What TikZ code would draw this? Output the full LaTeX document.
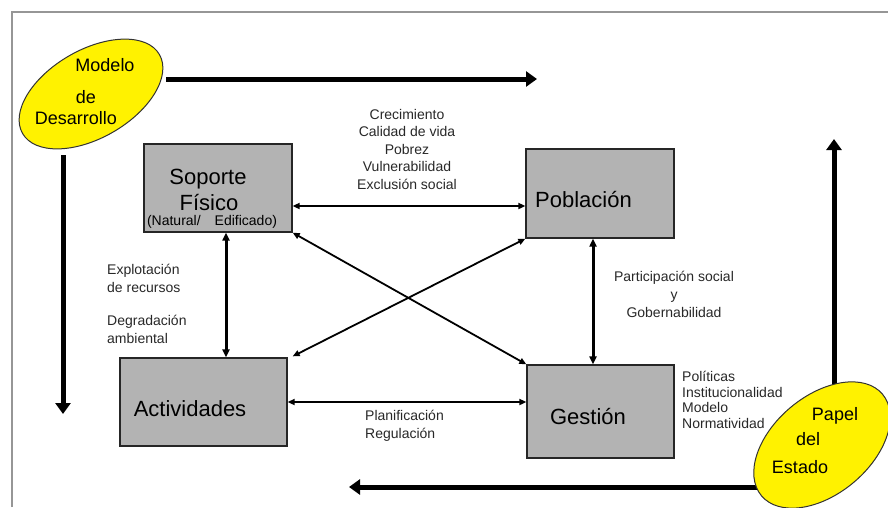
\documentclass[tikz,border=0pt]{standalone}
\usepackage{fontspec}
\setmainfont{Liberation Sans}
\usepackage{xcolor}
\usetikzlibrary{calc, positioning, arrows.meta, shapes.geometric}

\definecolor{cajagris}{RGB}{179,179,179}
\definecolor{marcogris}{RGB}{150,150,150}
\definecolor{textogris}{RGB}{40,40,40}

\begin{document}
\begin{tikzpicture}[x=1pt, y=-1pt,
    caja/.style={draw=black!85, line width=1.3pt, fill=cajagris, inner sep=0},
    titulo/.style={font=\fontsize{22}{26}\selectfont, inner sep=0},
    etiqueta/.style={font=\fontsize{14}{17.5}\selectfont, align=center, inner sep=0, text=textogris},
    flecha/.style={{Triangle[length=7pt,width=6pt]}-{Triangle[length=7pt,width=6pt]}, line width=1.8pt},
    flechag/.style={{Triangle[length=8pt,width=7pt]}-{Triangle[length=8pt,width=7pt]}, line width=3pt},
    gruesa/.style={-{Triangle[length=11pt,width=15pt]}, line width=5pt},
    elipse/.style={ellipse, draw=black!80, line width=1pt, fill=yellow, inner sep=0},
    eltexto/.style={font=\fontsize{18}{20}\selectfont, inner sep=0}]
    \useasboundingbox (0,0) rectangle (888,507);
    \fill[white] (0,0) rectangle (888,507);

    % marco
    \draw[marcogris, line width=1.5pt] (12,507) -- (12,12) -- (888,12);

    % cajas
    \node[caja, minimum width=148pt, minimum height=88pt] (soporte) at (218,188) {};
    \node[caja, minimum width=148pt, minimum height=89pt] (poblacion) at (600,193.5) {};
    \node[caja, minimum width=167pt, minimum height=88pt] (actividades) at (203.5,402) {};
    \node[caja, minimum width=147pt, minimum height=93pt] (gestion) at (600.5,411.5) {};

    \node[titulo, anchor=base] (soporteT) at (208,184) {Soporte};
    \node[titulo, anchor=base] (fisicoT) at (209,210) {Físico};
    \node[etiqueta, anchor=base, text=black] (naturalT) at (212,225) {(Natural/\quad Edificado)};
    \node[titulo, anchor=base west] (poblacionT) at (535,207) {Población};
    \node[titulo, anchor=base] (actividadesT) at (190,416) {Actividades};
    \node[titulo, anchor=base] (gestionT) at (588,424) {Gestión};

    % relaciones
    \draw[flecha] ($(soporte.east)+(0,18)$) -- ({$(soporte.east)+(0,18)$} -| poblacion.west);
    \draw[flecha] (actividades.east) -- (actividades.east -| gestion.west);
    \draw[flechag] ($(soporte.south)+(8,0)$) -- ({$(soporte.south)+(8,0)$} |- actividades.north);
    \draw[flechag] ($(poblacion.south)+(-7,0)$) -- ({$(poblacion.south)+(-7,0)$} |- gestion.north);
    \draw[flecha] (soporte.south east) -- (gestion.north west);
    \draw[flecha] (poblacion.south west) -- ($(actividades.north east)+(5,-1)$);

    \node[etiqueta, anchor=north] (crecimiento) at (407,109) {Crecimiento\\Calidad de vida\\Pobrez\\Vulnerabilidad\\Exclusión social};
    \node[etiqueta, anchor=north west, align=left] (explotacion) at (107,264) {Explotación\\de recursos};
    \node[etiqueta, anchor=north west, align=left] (degradacion) at (107,315) {Degradación\\ambiental};
    \node[etiqueta, anchor=north, font=\fontsize{14}{18}\selectfont] (participacion) at (674,271) {Participación social\\y\\Gobernabilidad};
    \node[etiqueta, anchor=north west, align=left, font=\fontsize{14}{15.5}\selectfont] (politicas) at (682,371) {Políticas\\Institucionalidad\\Modelo\\Normatividad};
    \node[etiqueta, anchor=north west, align=left, font=\fontsize{14}{18}\selectfont] (planificacion) at (365,410) {Planificación\\Regulación};

    % flechas gruesas
    \coordinate (d1) at (166,79);
    \coordinate (d2) at (537,79);
    \coordinate (i1) at (63,155);
    \coordinate (i2) at (63,414);
    \coordinate (e1) at (834,395);
    \coordinate (e2) at (834,139);
    \coordinate (a1) at (775,487);
    \coordinate (a2) at (349,487);
    \draw[gruesa] (d1) -- (d2);
    \draw[gruesa] (i1) -- (i2);
    \draw[gruesa] (e1) -- (e2);
    \draw[gruesa] (a1) -- (a2);

    % elipses
    \node[elipse, minimum width=158pt, minimum height=88pt, rotate=30] (modelo) at (91,94) {};
    \node[elipse, minimum width=158pt, minimum height=98pt, rotate=40] (papel) at (822,445) {};

    \node[eltexto, anchor=base] (modeloT) at (105,71) {Modelo};
    \node[eltexto, anchor=base] (deT) at (86,103) {de};
    \node[eltexto, anchor=base] (desarrolloT) at (76,124) {Desarrollo};
    \node[eltexto, anchor=base] (papelT) at (835,420) {Papel};
    \node[eltexto, anchor=base] (delT) at (808,445) {del};
    \node[eltexto, anchor=base] (estadoT) at (800,473) {Estado};
\end{tikzpicture}
\end{document}
